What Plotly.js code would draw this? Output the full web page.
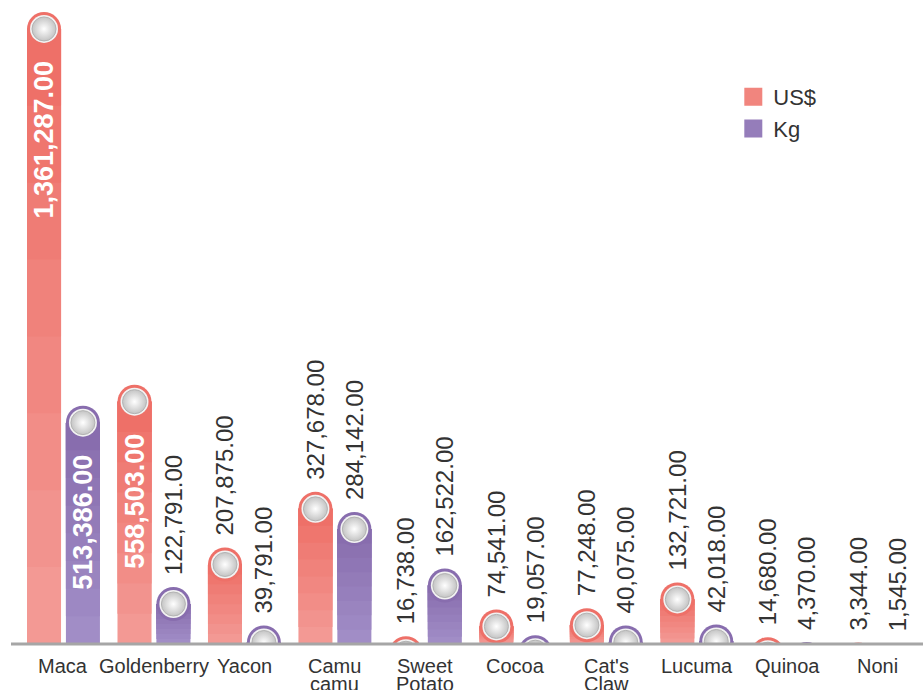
<!DOCTYPE html>
<html>
<head>
<meta charset="utf-8">
<script src="https://cdn.plot.ly/plotly-3.0.1.min.js"></script>
<style>html,body{margin:0;padding:0;background:#fff}#chart{width:923px;height:690px}</style>
</head>
<body>
<div id="chart"></div>
<script>
// ---- data ----
const categories = ['Maca', 'Goldenberry', 'Yacon', 'Camu camu', 'Sweet Potato', 'Cocoa', "Cat's Claw", 'Lucuma', 'Quinoa', 'Noni'];
const tickLabels = ['Maca', 'Goldenberry', 'Yacon', 'Camu<br>camu', 'Sweet<br>Potato', 'Cocoa', "Cat's<br>Claw", 'Lucuma', 'Quinoa', 'Noni'];
const usd = [1361287, 558503, 207875, 327678, 16738, 74541, 77248, 132721, 14680, 3344];
const kg = [513386, 122791, 39791, 284142, 162522, 19057, 40075, 42018, 4370, 1545];
const seriesNames = ['US$', 'Kg'];

// ---- styling ----
const W = 923, H = 690;
const zeroPx = 644;                  // pixel row of the baseline
const belowPx = 18;                  // plot area continues below the baseline (hidden)
const margin = {l: 11, r: 0, t: 0, b: H - zeroPx - belowPx};
const yMax = 1387000;
const dpp = yMax / zeroPx;           // data units per pixel
const yMin = -belowPx * dpp;
const barW = 0.376;                  // in category units
const offsets = [-0.215, 0.215];
const capPx = 34;
const colors = [
  {bottom: [243, 153, 148], top: [238, 112, 104]},
  {bottom: [161, 141, 198], top: [136, 109, 174]}
];
const NB = 8;
const fmt = v => v.toLocaleString('en-US', {minimumFractionDigits: 2, maximumFractionDigits: 2});
const rgb = c => 'rgb(' + c.map(Math.round).join(',') + ')';
const mix = (a, b, t) => a.map((x, i) => x + (b[i] - x) * t);
const FONT = 'Liberation Sans, Arial, sans-serif';

const xs = categories.map((_, i) => i);
const traces = [];
const capR = capPx / 2 * dpp;

// gradient bar bodies
[usd, kg].forEach((vals, s) => {
  const xpos = xs.map(i => i + offsets[s]);
  const h = vals.map(v => Math.max(v - capR, 0));
  for (let k = 0; k < NB; k++) {
    const base = h.map(hh => hh * k / NB);
    traces.push({
      type: 'bar', x: xpos, y: h.map((hh, j) => hh - base[j]), base: base, width: barW,
      marker: {color: rgb(mix(colors[s].bottom, colors[s].top, k / (NB - 1))), line: {width: 0}},
      hoverinfo: 'skip', showlegend: false
    });
  }
});

// round caps & balls
[usd, kg].forEach((vals, s) => {
  const xpos = xs.map(i => i + offsets[s]);
  const yc = vals.map(v => v - capR);
  traces.push({type: 'scatter', mode: 'markers', x: xpos, y: yc, cliponaxis: true,
    marker: {size: capPx, color: rgb(colors[s].top), line: {width: 0}}, hoverinfo: 'skip', showlegend: false});
  traces.push({type: 'scatter', mode: 'markers', x: xpos, y: yc, cliponaxis: true,
    marker: {size: 28, color: '#f2f2f2', line: {width: 0}}, hoverinfo: 'skip', showlegend: false});
  traces.push({type: 'scatter', mode: 'markers', x: xpos, y: yc, cliponaxis: true,
    marker: {size: 24, color: '#c4c4c4', gradient: {type: 'radial', color: '#ffffff'}, line: {width: 1, color: '#b3b3b3'}},
    hoverinfo: 'skip', showlegend: false});
});

// value labels (carried by invisible bars)
const insideFont = 27, outsideFont = 24;
[usd, kg].forEach((vals, s) => {
  const xpos = xs.map(i => i + offsets[s]);
  const inside = vals.map(v => (v / dpp - 48) > 0.56 * insideFont * fmt(v).length);
  traces.push({type: 'bar', x: xpos, y: vals.map(v => v - 46 * dpp), width: barW,
    text: vals.map((v, j) => inside[j] ? fmt(v) : ''), textposition: 'inside', insidetextanchor: 'end',
    textangle: -90, constraintext: 'none',
    insidetextfont: {family: FONT, size: insideFont, color: '#ffffff', weight: 'bold'},
    marker: {color: 'rgba(0,0,0,0)', line: {width: 0}}, hoverinfo: 'skip', showlegend: false});
  traces.push({type: 'bar', x: xpos, y: vals.map(v => v + 9 * dpp), width: barW,
    text: vals.map((v, j) => inside[j] ? '' : fmt(v)), textposition: 'outside',
    textangle: -90, constraintext: 'none', cliponaxis: false,
    outsidetextfont: {family: FONT, size: outsideFont, color: '#333333'},
    marker: {color: 'rgba(0,0,0,0)', line: {width: 0}}, hoverinfo: 'skip', showlegend: false});
});

// legend entries
seriesNames.forEach((name, s) => {
  const c = rgb(mix(colors[s].bottom, colors[s].top, 0.5));
  traces.push({type: 'scatter', mode: 'markers', x: [null], y: [null], name: name,
    marker: {symbol: 'square', size: 18, color: c, line: {width: 2, color: c}}, hoverinfo: 'skip'});
});

// category labels (one annotation per line, tight line spacing)
const annotations = [];
tickLabels.forEach((lbl, i) => {
  lbl.split('<br>').forEach((line, li) => {
    annotations.push({x: i, y: 0, xref: 'x', yref: 'y', text: line, showarrow: false,
      xanchor: 'center', yanchor: 'top', yshift: -9 - li * 18,
      font: {family: FONT, size: 20, color: '#333333'}});
  });
});

const layout = {
  width: W, height: H, margin: margin,
  paper_bgcolor: '#ffffff', plot_bgcolor: '#ffffff',
  barmode: 'overlay',
  font: {family: FONT, color: '#333333'},
  showlegend: true,
  legend: {x: 0.792, y: 1 - 76 / (H - margin.b), xanchor: 'left', yanchor: 'top', bgcolor: 'rgba(0,0,0,0)',
    font: {size: 22, color: '#333333'}, itemwidth: 30, tracegroupgap: 0},
  xaxis: {range: [-0.58, 9.5], showticklabels: false,
    showgrid: false, zeroline: false, showline: false, ticks: '', fixedrange: true},
  yaxis: {range: [yMin, yMax], visible: false, showgrid: false, zeroline: false, fixedrange: true},
  shapes: [
    {type: 'rect', xref: 'paper', yref: 'y', x0: 0, x1: 1, y0: yMin, y1: 0,
      fillcolor: '#ffffff', line: {width: 0}, layer: 'above'},
    {type: 'line', xref: 'paper', yref: 'y', x0: 0, x1: 1, y0: 0, y1: 0,
      line: {color: '#a6a6a6', width: 3}, layer: 'above'}
  ],
  annotations: annotations
};

Plotly.newPlot('chart', traces, layout, {staticPlot: true, displayModeBar: false});
</script>
</body>
</html>
